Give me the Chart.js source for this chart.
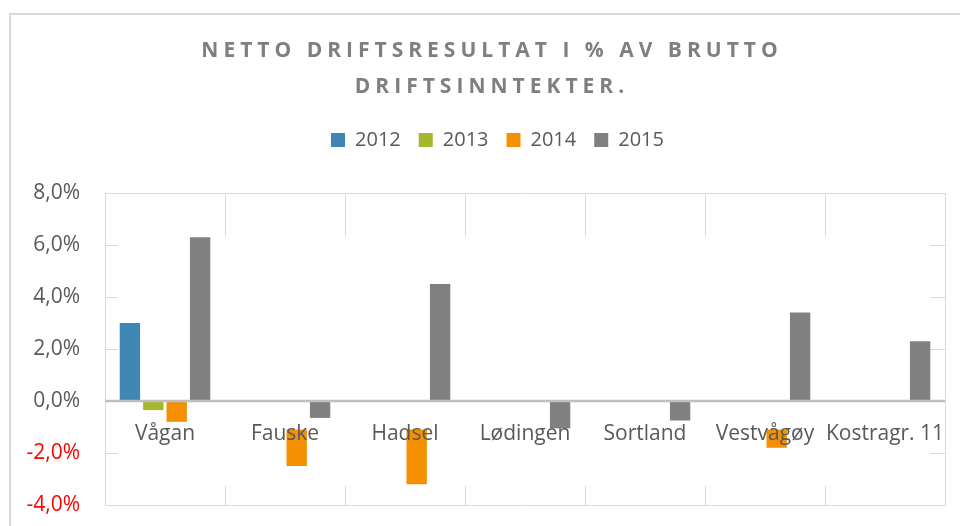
<!DOCTYPE html>
<html lang="no">
  <head>
    <meta charset="UTF-8" />
    <title>Netto driftsresultat</title>
    <style>
      html,
      body {
        margin: 0;
        padding: 0;
        background: #fff;
        overflow: hidden;
      }
      #chart {
        display: block;
      }
    </style>
  </head>
  <body>
    <canvas id="chart" width="960" height="526"></canvas>
    <script src="https://cdn.jsdelivr.net/npm/chart.js@4.4.1/dist/chart.umd.min.js"></script>
    <script>
      const titleLines = ["NETTO DRIFTSRESULTAT I % AV BRUTTO", "DRIFTSINNTEKTER."];

      const categories = [
        "Vågan",
        "Fauske",
        "Hadsel",
        "Lødingen",
        "Sortland",
        "Vestvågøy",
        "Kostragr. 11",
      ];
      const years = ["2012", "2013", "2014", "2015"];

      // prosent av brutto driftsinntekter
      const values2012 = [3.0, null, null, null, null, null, null];
      const values2013 = [-0.35, null, null, null, null, null, null];
      // deler av 2014-søylene vises bare fra -1,1 og ned
      const values2014 = [-0.8, [-1.1, -2.5], [-1.1, -3.2], null, null, [-1.1, -1.8], null];
      const values2015 = [6.3, -0.65, 4.5, -1.05, -0.75, 3.4, 2.3];

      const yMin = -4;
      const yMax = 8;
      const yStep = 2;

      const textColor = "#595959";
      const gridColor = "#d9d9d9";
      const font = "'Open Sans', 'Liberation Sans', sans-serif";

      const decor = {
        id: "decor",
        // legend sits a bit right of centre and higher than its box
        afterLayout(chart) {
          const lg = chart.legend;
          lg.left += 20;
          lg.right += 20;
          lg.top -= 33;
          lg.bottom -= 33;
        },
        beforeDraw(chart) {
          const ctx = chart.ctx;
          ctx.save();
          ctx.fillStyle = "#fff";
          ctx.fillRect(0, 0, chart.width, chart.height);
          ctx.strokeStyle = gridColor;
          ctx.lineWidth = 2;
          ctx.strokeRect(10, 14, chart.width + 20, chart.height + 20);
          ctx.restore();
        },
        // blank middle of the plot, only the grid edges stay
        beforeDatasetsDraw(chart) {
          const { ctx, chartArea, scales } = chart;
          const top = scales.y.getPixelForValue(6.35);
          const bottom = scales.y.getPixelForValue(-3.26);
          ctx.save();
          ctx.fillStyle = "#fff";
          ctx.fillRect(
            chartArea.left + 13,
            top,
            chartArea.right - chartArea.left - 28,
            bottom - top
          );
          ctx.restore();
        },
        // zero line, then the category names just under it
        afterDatasetsDraw(chart) {
          const { ctx, chartArea, scales } = chart;
          const y0 = scales.y.getPixelForValue(0);
          ctx.save();
          ctx.strokeStyle = "#bfbfbf";
          ctx.lineWidth = 2.5;
          ctx.beginPath();
          ctx.moveTo(chartArea.left, y0);
          ctx.lineTo(chartArea.right, y0);
          ctx.stroke();

          ctx.fillStyle = textColor;
          ctx.font = "21px " + font;
          ctx.textAlign = "center";
          ctx.textBaseline = "middle";
          categories.forEach((name, i) => {
            ctx.fillText(name, scales.x.getPixelForValue(i), y0 + 33);
          });
          ctx.restore();
        },
        afterDraw(chart) {
          const ctx = chart.ctx;
          ctx.save();
          ctx.fillStyle = "#7f7f7f";
          ctx.font = "bold 21px " + font;
          ctx.letterSpacing = "5px";
          ctx.textAlign = "center";
          ctx.textBaseline = "middle";
          titleLines.forEach((line, i) => {
            ctx.fillText(line, 492, 51 + i * 36);
          });
          ctx.restore();
        },
      };

      new Chart(document.getElementById("chart"), {
        type: "bar",
        data: {
          labels: categories,
          datasets: [
            { label: years[0], data: values2012, backgroundColor: "#3f86b5" },
            { label: years[1], data: values2013, backgroundColor: "#a5b72a" },
            { label: years[2], data: values2014, backgroundColor: "#f59100" },
            { label: years[3], data: values2015, backgroundColor: "#808080" },
          ],
        },
        options: {
          responsive: false,
          animation: false,
          devicePixelRatio: 1,
          categoryPercentage: 0.78,
          barPercentage: 0.87,
          layout: {
            padding: { top: 145, left: 10, right: 15, bottom: 21 },
          },
          plugins: {
            title: { display: false },
            tooltip: { enabled: false },
            legend: {
              position: "top",
              labels: {
                boxWidth: 14,
                boxHeight: 14,
                padding: 18,
                color: textColor,
                font: { family: font, size: 20 },
              },
            },
          },
          scales: {
            x: {
              grid: { color: gridColor, drawTicks: false },
              border: { color: gridColor },
              ticks: { display: false },
            },
            y: {
              min: yMin,
              max: yMax,
              afterFit(scale) {
                scale.width = 95;
                scale.paddingTop = 0;
                scale.paddingBottom = 0;
              },
              grid: { color: gridColor, drawTicks: false },
              border: { color: gridColor },
              ticks: {
                stepSize: yStep,
                padding: 25,
                font: { family: font, size: 21 },
                color: (c) => (c.tick.value < 0 ? "#ff0000" : textColor),
                callback: (v) => v.toFixed(1).replace(".", ",") + "%",
              },
            },
          },
        },
        plugins: [decor],
      });
    </script>
  </body>
</html>
